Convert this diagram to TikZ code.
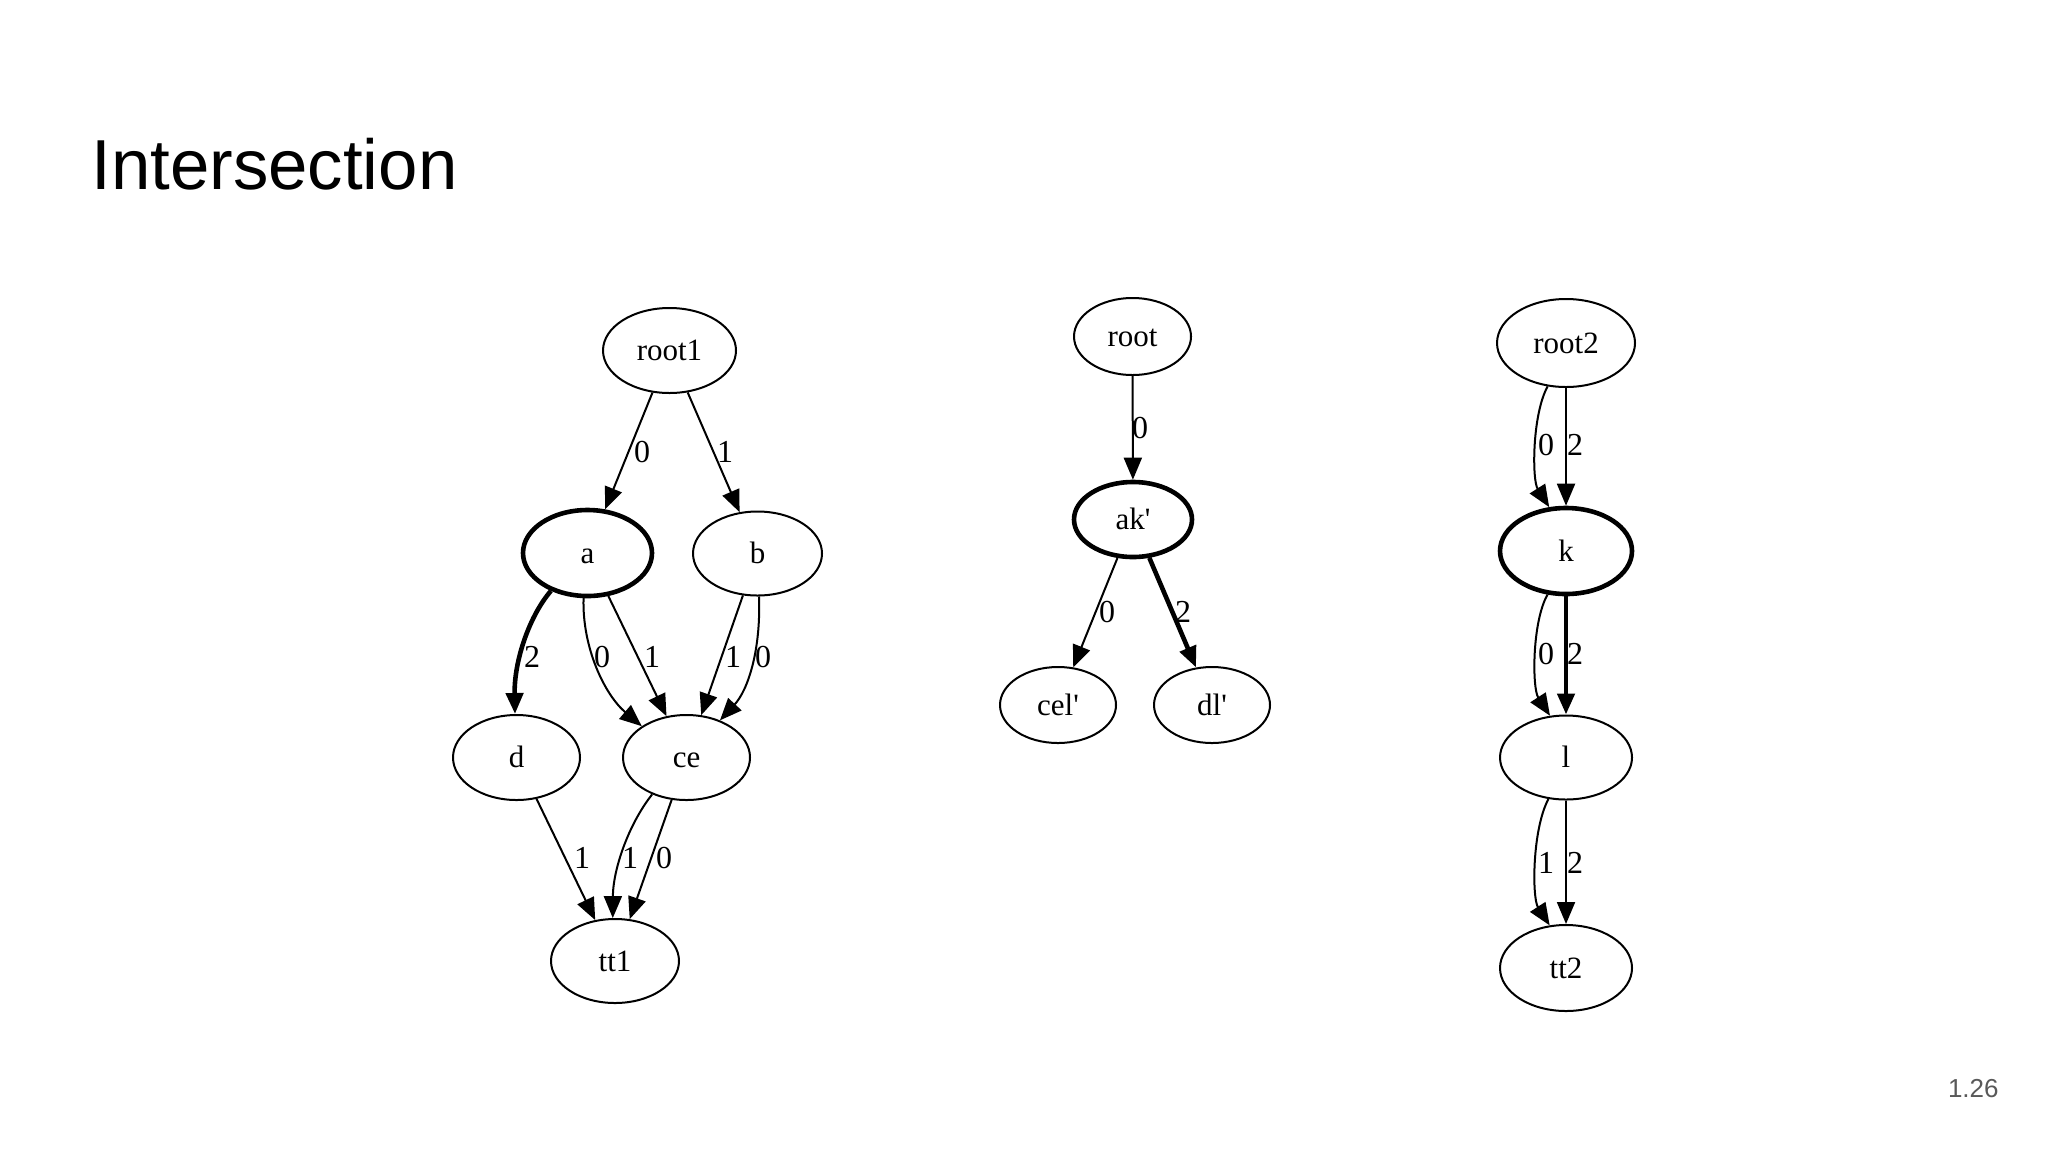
\documentclass[tikz,border=0pt]{standalone}
\usepackage{fontspec}
\setmainfont{Liberation Serif}
\newfontfamily\gvfont{Liberation Serif}
\newfontfamily\titlefont{Liberation Sans}
\usetikzlibrary{shapes.geometric,arrows.meta}
\definecolor{pagegray}{HTML}{595959}
\begin{document}
\begin{tikzpicture}[x=0.5pt,y=-0.5pt,
  nd/.style={ellipse,draw,line width=1pt,inner sep=0pt,text height=12pt,text depth=2pt,font=\gvfont\fontsize{15.5}{18}\selectfont},
  boldnd/.style={nd,line width=2.3pt},
  e/.style={line width=1pt,-{Triangle[length=11pt,width=9pt]}},
  eb/.style={line width=2.3pt,-{Triangle[length=10.5pt,width=8.5pt]}},
  lb/.style={font=\gvfont\fontsize{16}{18}\selectfont,inner sep=0pt}]
\useasboundingbox (0,0) rectangle (2048,1152);

% title and page number
\node[anchor=base west,inner sep=0pt,font=\titlefont\fontsize{35.4}{40}\selectfont] (title) at (91,189) {Intersection};
\node[anchor=base east,inner sep=0pt,text=pagegray,font=\titlefont\fontsize{13}{15}\selectfont] (pnum) at (1999,1097) {1.26};

% graph 1
\node[nd,minimum width=66.5pt,minimum height=42.5pt] (root1) at (669.5,350.5) {root1};
\node[boldnd,minimum width=64.5pt,minimum height=43pt] (a) at (587.5,553) {a};
\node[nd,minimum width=64.5pt,minimum height=42pt] (b) at (757.5,553.5) {b};
\node[nd,minimum width=63.5pt,minimum height=42.5pt] (d) at (516.5,757.5) {d};
\node[nd,minimum width=63.5pt,minimum height=42.5pt] (ce) at (686.5,757.5) {ce};
\node[nd,minimum width=64pt,minimum height=42pt] (tt1) at (615,961) {tt1};

\draw[e] (root1) -- (a);
\draw[e] (root1) -- (b);
\draw[eb] (a.226) .. controls (530,615) and (514,660) .. (d.92);
\draw[e] (a.265) .. controls (582,648) and (605,695) .. (ce.145);
\draw[e] (a) -- (ce);
\draw[e] (b) -- (ce);
\draw[e] (b.272) .. controls (761,650) and (748,690) .. (ce.48);
\draw[e] (d) -- (tt1);
\draw[e] (ce.227) .. controls (628,825) and (613,870) .. (tt1.93);
\draw[e] (ce) -- (tt1);

\node[lb] (l1) at (642,452) {0};
\node[lb] (l2) at (725,452) {1};
\node[lb] (l3) at (532,657) {2};
\node[lb] (l4) at (602,657) {0};
\node[lb] (l5) at (652,657) {1};
\node[lb] (l6) at (733,657) {1};
\node[lb] (l7) at (763,657) {0};
\node[lb] (l8) at (582,858) {1};
\node[lb] (l9) at (630,858) {1};
\node[lb] (l10) at (664,858) {0};

% graph 2
\node[nd,minimum width=58.5pt,minimum height=38.5pt] (root) at (1132.5,336.5) {root};
\node[boldnd,minimum width=59pt,minimum height=37.5pt] (ak) at (1133,519.5) {ak'};
\node[nd,minimum width=58pt,minimum height=38pt] (cel) at (1058,705) {cel'};
\node[nd,minimum width=58pt,minimum height=38pt] (dl) at (1212,705) {dl'};

\draw[e] (root) -- (ak);
\draw[e] (ak) -- (cel);
\draw[eb] (ak) -- (dl);

\node[lb] (m1) at (1140,428) {0};
\node[lb] (m2) at (1107,612) {0};
\node[lb] (m3) at (1183,612) {2};

% graph 3
\node[nd,minimum width=69pt,minimum height=44pt] (root2) at (1566,343) {root2};
\node[boldnd,minimum width=66pt,minimum height=43pt] (k) at (1566,551) {k};
\node[nd,minimum width=66pt,minimum height=42pt] (l) at (1566,757.5) {l};
\node[nd,minimum width=66pt,minimum height=43pt] (tt2) at (1566,968) {tt2};

\draw[e] (root2.247) .. controls (1532,415) and (1532,480) .. (k.111);
\draw[e] (root2) -- (k);
\draw[e] (k.247) .. controls (1532,622) and (1532,688) .. (l.111);
\draw[eb] (k) -- (l);
\draw[e] (l.247) .. controls (1532,830) and (1532,898) .. (tt2.111);
\draw[e] (l) -- (tt2);

\node[lb] (n1) at (1546,445) {0};
\node[lb] (n2) at (1575,445) {2};
\node[lb] (n3) at (1546,654) {0};
\node[lb] (n4) at (1575,654) {2};
\node[lb] (n5) at (1546,863) {1};
\node[lb] (n6) at (1575,863) {2};
\end{tikzpicture}
\end{document}
